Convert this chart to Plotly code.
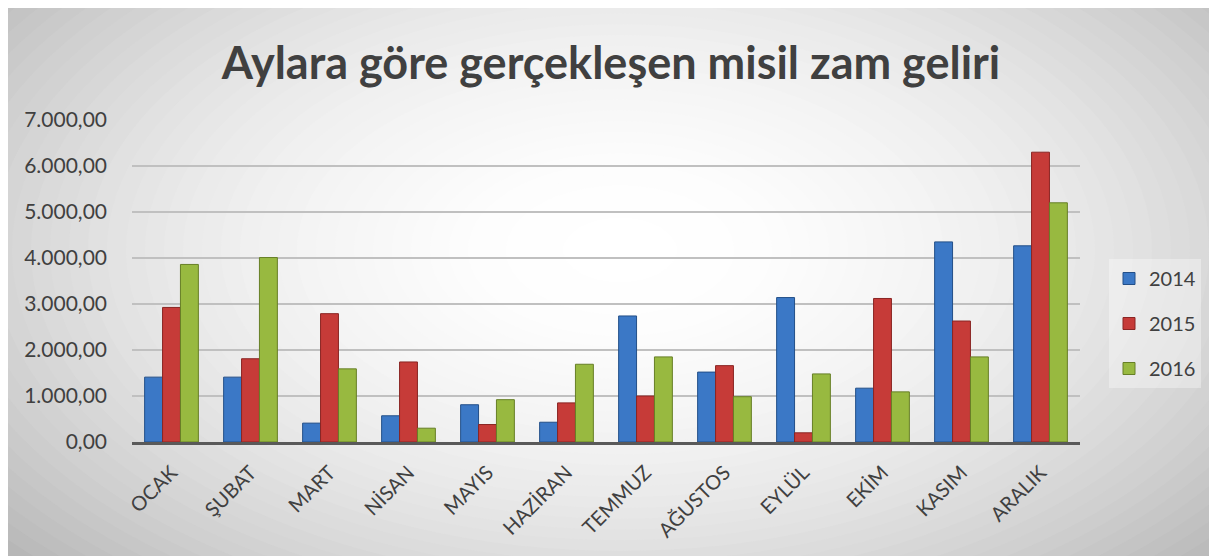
import plotly.graph_objects as go

months = ["OCAK", "ŞUBAT", "MART", "NİSAN", "MAYIS", "HAZİRAN",
          "TEMMUZ", "AĞUSTOS", "EYLÜL", "EKİM", "KASIM", "ARALIK"]
y2014 = [1410, 1410, 410, 570, 810, 430, 2740, 1520, 3140, 1170, 4350, 4265]
y2015 = [2925, 1810, 2790, 1740, 380, 850, 1000, 1660, 200, 3120, 2630, 6300]
y2016 = [3860, 4010, 1590, 300, 920, 1690, 1850, 985, 1480, 1090, 1850, 5200]
series_names = ["2014", "2015", "2016"]
title_text = "Aylara göre gerçekleşen misil zam geliri"

# page has an 8px body margin, so the figure is sized to fill the rest
OFF = 8
W, H = 1217 - OFF, 556 - OFF
L, R, T, B = 124, 137, 112, 114
pw, ph = W - L - R, H - T - B

def px2x(px):
    return (px - L) / pw

def py2y(py):
    return (H - B - py) / ph

# radial gradient background approximated with stacked ellipses
shapes = []
cx, cy, rx, ry = 612, 242, 760, 430

def gcol(r):
    v = int(round(255 - 62 * min(r, 1.15) ** 2))
    v = max(0, min(255, v))
    return f"rgb({v},{v},{v})"

shapes.append(dict(type="rect", xref="paper", yref="paper",
                   x0=px2x(0), x1=px2x(W), y0=py2y(H), y1=py2y(0),
                   fillcolor=gcol(1.2), line=dict(width=0), layer="below"))
n = 48
for i in range(n):
    r = 1.2 * (1 - i / n)
    shapes.append(dict(type="circle", xref="paper", yref="paper",
                       x0=px2x(cx - r * rx), x1=px2x(cx + r * rx),
                       y0=py2y(cy + r * ry), y1=py2y(cy - r * ry),
                       fillcolor=gcol(r), line=dict(width=0), layer="below"))

colors = ["#3b78c6", "#c63b38", "#98b940"]
lines = ["#234f88", "#8a2523", "#667f26"]
data = [y2014, y2015, y2016]

fig = go.Figure()
for i, (name, vals) in enumerate(zip(series_names, data)):
    fig.add_trace(go.Bar(
        x=months, y=vals, name=name, legendgroup=name,
        marker=dict(color=colors[i], line=dict(color=lines[i], width=1)),
    ))

fig.update_layout(
    width=W, height=H,
    margin=dict(l=L, r=R, t=T, b=B, pad=0),
    paper_bgcolor="white",
    plot_bgcolor="rgba(0,0,0,0)",
    separators=",.",
    barmode="group",
    bargap=0.32,
    bargroupgap=0,
    font=dict(family="Lato", color="#404040"),
    title=dict(text=f"<b>{title_text}</b>", x=(611 - OFF) / W, xref="container",
               xanchor="center", y=1 - (63 - OFF) / H, yref="container", yanchor="middle",
               font=dict(family="Lato", size=45, color="#404040")),
    shapes=shapes,
    legend=dict(x=px2x(1109 - OFF), y=py2y(259 - OFF), xanchor="left", yanchor="top",
                bgcolor="rgba(255,255,255,0.35)", traceorder="grouped",
                tracegroupgap=16, font=dict(size=20, color="#404040"),
                itemwidth=30),
    showlegend=True,
)
fig.update_xaxes(type="category", tickangle=-45, showline=True, linecolor="#595959",
                 linewidth=3, showgrid=False, ticks="", ticklabelstandoff=8,
                 tickfont=dict(size=20, color="#404040"))
fig.update_yaxes(range=[0, 7000], dtick=1000, tickformat=",.2f", showgrid=True,
                 gridcolor="#c0c0c0", gridwidth=1.5, zeroline=False, showline=False,
                 ticks="", ticklabelstandoff=24,
                 tickfont=dict(size=21, color="#404040"))

fig.write_html("out.html")
